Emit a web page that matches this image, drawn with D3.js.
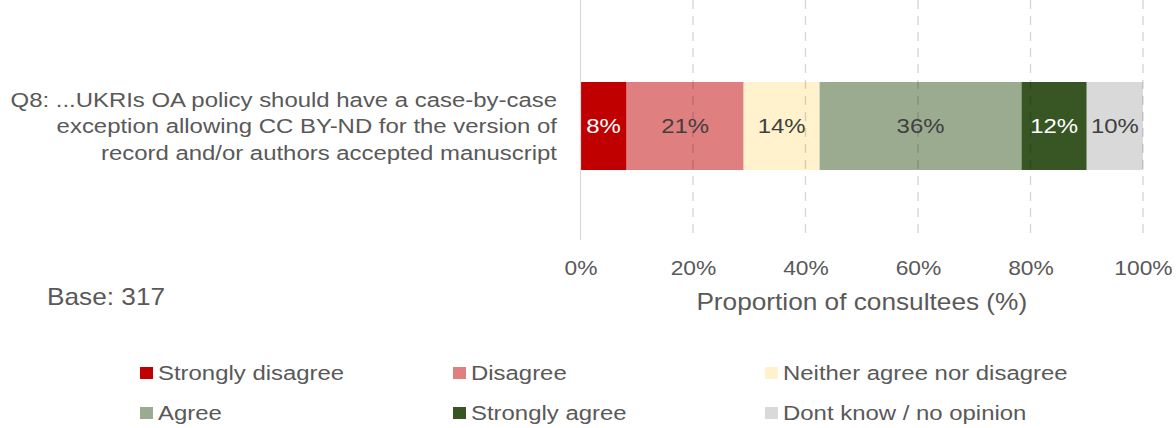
<!DOCTYPE html>
<html><head><meta charset="utf-8">
<script src="https://cdn.jsdelivr.net/npm/d3@7"></script>
<style>body{margin:0;background:#fff;} text{font-family:"Liberation Sans",Arial,sans-serif;}</style>
</head><body>
<svg id="c" width="1176" height="428"></svg>
<script>
const categories = ["Q8: ...UKRIs OA policy should have a case-by-case|exception allowing CC BY-ND for the version of|record and/or authors accepted manuscript"];
const seriesNames = ["Strongly disagree","Disagree","Neither agree nor disagree","Agree","Strongly agree","Dont know / no opinion"];
const seriesValues = [8.2, 20.8, 13.5, 35.9, 11.6, 10.0];
const seriesLabels = ["8%","21%","14%","36%","12%","10%"];
const seriesColors = ["#C00000","#E07F7F","#FFF2CC","#9BAB90","#375623","#D9D9D9"];
const labelColors = ["#ffffff","#404040","#404040","#404040","#ffffff","#404040"];
const tickValues = [0,20,40,60,80,100];

const SX = 1.14; // horizontal stretch of reference text
const svg = d3.select("#c");
const x = d3.scaleLinear().domain([0,100]).range([580.5,1143]);
const y = d3.scaleBand().domain(categories).range([0,252]).paddingInner(0).paddingOuter(0.932);

let cum = 0;
const stacks = seriesValues.map((v,i)=>{const s={i,x0:cum,x1:cum+v,v}; cum+=v; return s;});

function stretchText(parent, tx, ty, size, anchor, str, fill){
  return parent.append("text").attr("transform",`translate(${tx},${ty}) scale(${SX},1)`)
    .attr("text-anchor",anchor).attr("dy","0.35em").attr("font-size",size).attr("fill",fill||"#595959").text(str);
}

const g = svg.append("g");
g.selectAll("rect.bar").data(stacks).join("rect")
  .attr("x",d=>x(d.x0)).attr("width",d=>x(d.x1)-x(d.x0))
  .attr("y",y(categories[0])).attr("height",y.bandwidth())
  .attr("fill",d=>seriesColors[d.i]);

g.selectAll("line.grid").data(tickValues.slice(1)).join("line")
  .attr("x1",d=>x(d)).attr("x2",d=>x(d)).attr("y1",0).attr("y2",240)
  .attr("stroke","#000").attr("stroke-opacity",0.15).attr("stroke-width",1.5)
  .attr("stroke-dasharray","9,7");
g.append("line").attr("x1",x(0)).attr("x2",x(0)).attr("y1",0).attr("y2",240)
  .attr("stroke","#d9d9d9").attr("stroke-width",1.2);

const cy = y(categories[0])+y.bandwidth()/2;
stacks.forEach(d=>stretchText(g,(x(d.x0)+x(d.x1))/2,cy,21,"middle",seriesLabels[d.i],labelColors[d.i]));

const ax = svg.append("g").attr("transform","translate(0,240)")
  .call(d3.axisBottom(x).tickValues(tickValues).tickFormat(d=>d+"%").tickSize(0).tickPadding(21));
ax.select(".domain").remove();
ax.selectAll("text").attr("font-size",20).attr("fill","#595959")
  .attr("font-family","Liberation Sans, Arial, sans-serif").attr("transform",`scale(${SX},1)`);

stretchText(svg,(x(0)+x(100))/2,302,23,"middle","Proportion of consultees (%)");

const lines = categories[0].split("|");
lines.forEach((l,i)=>stretchText(svg,557,cy+(i-1)*26.5,21,"end",l));

stretchText(svg,47,297,23,"start","Base: 317");

const legX = [140,453,765], legY = [373,413];
seriesNames.forEach((n,i)=>{
  const lx = legX[i%3], ly = legY[Math.floor(i/3)];
  svg.append("rect").attr("x",lx).attr("y",ly-6).attr("width",13).attr("height",12).attr("fill",seriesColors[i]);
  stretchText(svg,lx+18,ly,21,"start",n);
});
</script>
</body></html>
